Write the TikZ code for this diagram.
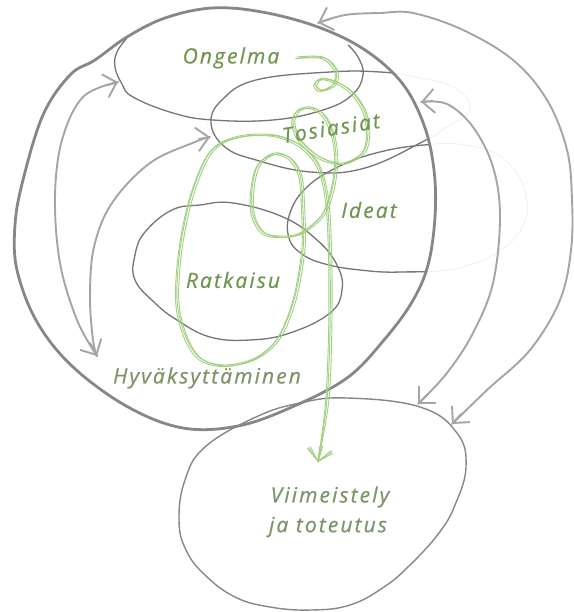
\documentclass[tikz,border=0pt]{standalone}
\usepackage{fontspec}
\newfontfamily\hand{Open Sans}[LetterSpace=10, FakeBold=0.5]
\usetikzlibrary{arrows.meta}
\definecolor{pencil}{RGB}{135,135,135}
\definecolor{ellgray}{RGB}{118,118,118}
\definecolor{arrgray}{RGB}{165,165,165}
\definecolor{lgreen}{RGB}{160,208,128}
\definecolor{tgreen}{RGB}{110,150,78}
\definecolor{tgray}{RGB}{125,148,105}
\tikzset{
  bigc/.style={draw=pencil, line width=2.8pt, line join=round},
  ell/.style={draw=ellgray, line width=1.3pt},
  faint/.style={draw=black!6, line width=0.8pt},
  arr/.style={draw=arrgray, line width=1.9pt, line cap=round},
  arrtip/.style={arr, -{Straight Barb[length=12pt,width=24pt]}},
  grn/.style={draw=lgreen, line width=0.9pt, line cap=round, line join=round},
  grntip/.style={grn, -{Straight Barb[length=12pt,width=24pt]}},
  lab/.style={font=\hand\itshape\fontsize{21}{25}\selectfont, text=tgreen, inner sep=0pt},
  labg/.style={lab, text=tgray},
}
\begin{document}
\begin{tikzpicture}[x=1pt,y=-1pt]
\useasboundingbox (0,0) rectangle (573,612);
\fill[white] (0,0) rectangle (573,612);

% faint parts of inner ellipses
\draw[faint] plot[smooth cycle, tension=0.7] coordinates {(424,141) (445,128) (470,110) (455,88) (415,77) (380,72) (330,72) (256,80) (222,100) (211,123) (225,147) (256,160) (311,172) (365,168)};
\draw[faint] plot[smooth cycle, tension=0.7] coordinates {(424,145) (380,152) (340,166) (307,187) (290,213) (289,238) (302,254) (325,264) (360,270) (402,272) (463,267) (513,240) (527,200) (505,160) (465,145)};

% inner parts clipped to the big circle
\begin{scope}
\clip plot[smooth cycle, tension=0.6] coordinates {(127,37) (165,18) (212,8) (262,12) (318,27) (365,50) (402,83) (424,125) (434,170) (435,217) (428,265) (412,302) (384,340) (347,378) (292,407) (238,426) (183,428) (128,407) (73,367) (37,322) (17,270) (15,225) (23,180) (43,115) (70,75) (95,60)};
\draw[ell] plot[smooth cycle, tension=0.7] coordinates {(424,141) (445,128) (470,110) (455,88) (415,77) (380,72) (330,72) (256,80) (222,100) (211,123) (225,147) (256,160) (311,172) (365,168)};
\draw[ell] plot[smooth cycle, tension=0.7] coordinates {(424,145) (380,152) (340,166) (307,187) (290,213) (289,238) (302,254) (325,264) (360,270) (402,272) (463,267) (513,240) (527,200) (505,160) (465,145)};
\end{scope}

% Ongelma ellipse (top shares the big circle)
\draw[ell] plot[smooth, tension=0.7] coordinates {(127,38) (117,52) (115,67) (122,84) (133,97) (173,113) (213,120) (273,120) (323,110) (352,95) (363,75) (358,57) (348,45)};

% Ratkaisu ellipse
\draw[ell] plot[smooth cycle, tension=0.7] coordinates {(200,205) (233,203) (283,217) (317,240) (337,265) (342,290) (330,313) (290,333) (250,340) (210,337) (177,320) (155,303) (135,280) (135,255) (145,232) (172,210)};

% big circle
\draw[bigc] plot[smooth cycle, tension=0.6] coordinates {(127,37) (165,18) (212,8) (262,12) (318,27) (365,50) (402,83) (424,125) (434,170) (435,217) (428,265) (412,302) (384,340) (347,378) (292,407) (238,426) (183,428) (128,407) (73,367) (37,322) (17,270) (15,225) (23,180) (43,115) (70,75) (95,60)};

% Viimeistely ellipse
\draw[ell, line width=1.4pt, draw=pencil] plot[smooth cycle, tension=0.7] coordinates {(205,447) (256,417) (300,403) (347,398) (420,407) (457,433) (466,467) (455,505) (439,533) (410,565) (384,587) (350,605) (311,610) (270,607) (235,597) (205,575) (186,550) (179,520) (185,480)};

% arrow end points
\coordinate (a1) at (318,23);
\coordinate (a2) at (452,424);
\coordinate (b1) at (421,102);
\coordinate (b2) at (418,404);
\coordinate (c1) at (118,82);
\coordinate (c2) at (97,356);
\coordinate (d1) at (210,137);
\coordinate (g1) at (318,462);

% gray arrows
\draw[arr] plot[smooth, tension=0.6] coordinates {(a1) (345,15) (380,13) (413,13) (463,30) (513,60) (547,100) (567,150) (572,200) (571,250) (560,300) (530,350) (487,390) (a2)};
\draw[arr] plot[smooth, tension=0.6] coordinates {(b1) (447,104) (473,127) (493,167) (500,217) (493,283) (473,333) (447,373) (b2)};
\draw[arr] plot[smooth, tension=0.6] coordinates {(c1) (83,97) (62,140) (55,197) (60,263) (77,320) (c2)};
\draw[arr] plot[smooth, tension=0.6] coordinates {(d1) (195,142) (150,163) (112,203) (94,247) (90,297) (93,340) (c2)};
% arrowheads
\draw[arrtip] (330,19) -- (a1);
\draw[arrtip] (461,414) -- (a2);
\draw[arrtip] (433,101) -- (b1);
\draw[arrtip] (428,394) -- (b2);
\draw[arrtip] (108,85) -- (c1);
\draw[arrtip] (90,343) -- (c2);
\draw[arrtip] (199,139) -- (d1);

% green path (sketchy, three strokes)
\foreach \dx/\dy in {0/0, 1.8/1.0, -1.4/1.6} {
\begin{scope}[shift={(\dx,\dy)}]
\draw[grn] plot[smooth, tension=0.55] coordinates {(297,57) (323,57) (336,70) (334,84) (321,90) (315,84) (322,78) (337,82) (352,92) (364,110) (368,133) (363,152) (343,163) (320,157) (300,140) (293,122) (298,110) (311,107) (324,115) (333,135) (336,160) (332,190) (322,215) (300,233) (280,236) (263,232) (253,215) (252,190) (258,165) (274,153) (290,158) (300,175) (303,210) (303,250) (294,300) (278,338) (255,358) (225,365) (200,358) (185,335) (177,300) (180,250) (190,200) (205,160) (220,143) (245,135) (275,135) (300,145) (318,165) (327,200) (330,260) (330,330) (327,400) (g1)};
\draw[grntip] (321,445) -- (g1);
\end{scope}
}

% labels
\node[lab] (ong) at (231,58) {Ongelma};
\node[lab, rotate=9] (tos) at (331,128) {Tosiasiat};
\node[lab] (ide) at (369,210) {Ideat};
\node[lab] (rat) at (233,280) {Ratkaisu};
\node[labg] (hyv) at (207,378) {Hyväksyttäminen};
\node[labg] (vii) at (330,497) {Viimeistely};
\node[labg] (toe) at (328,527) {ja toteutus};
\end{tikzpicture}
\end{document}
